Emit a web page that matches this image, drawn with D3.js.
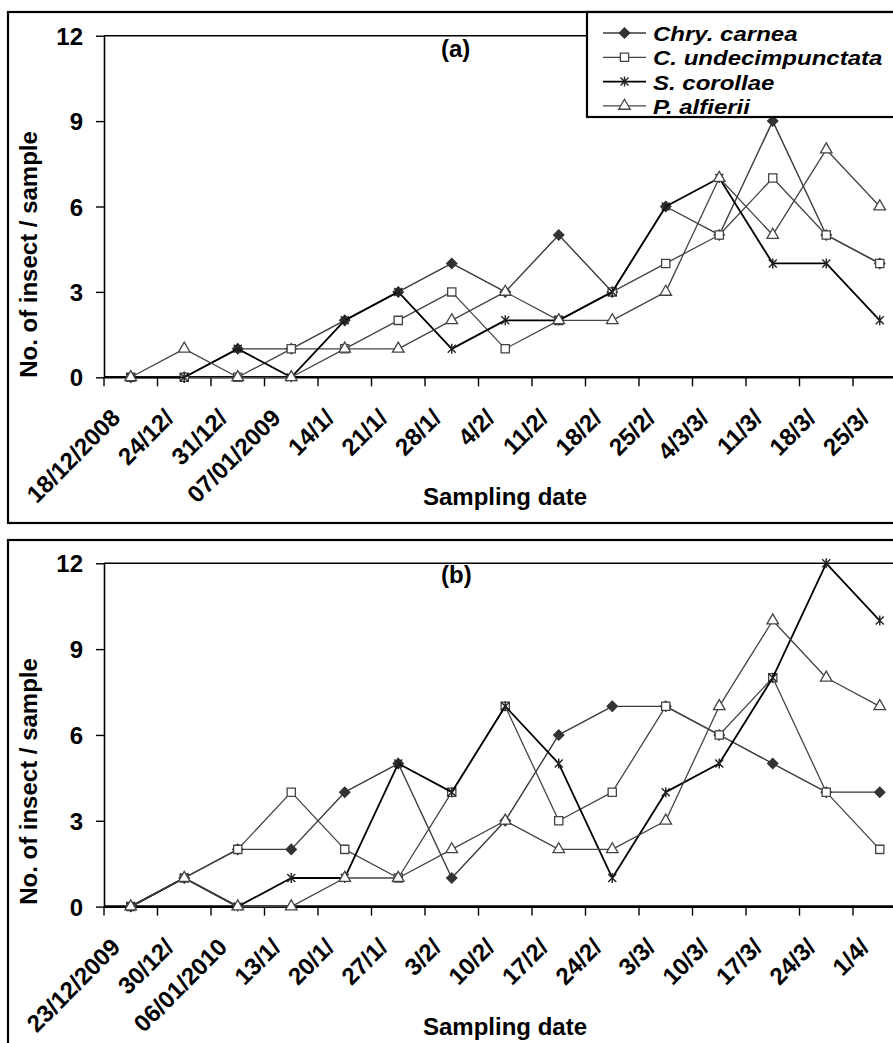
<!DOCTYPE html>
<html><head><meta charset="utf-8">
<script src="https://cdn.jsdelivr.net/npm/d3@7"></script>
<style>
body{margin:0;background:#fff}
svg{display:block}
text{font-family:"Liberation Sans",Arial,sans-serif;font-weight:bold;fill:#000}
</style>
</head><body>
<svg id="chart" width="893" height="1043"></svg>
<script>
// ---------- data ----------
const datesA = ["18/12/2008","24/12/","31/12/","07/01/2009","14/1/","21/1/","28/1/","4/2/","11/2/","18/2/","25/2/","4/3/3/","11/3/","18/3/","25/3/"];
const chryA = [0,0,1,1,2,3,4,3,5,3,6,5,9,5,4];
const coccA = [0,0,0,1,1,2,3,1,2,3,4,5,7,5,4];
const syrA  = [0,0,1,0,2,3,1,2,2,3,6,7,4,4,2];
const parA  = [0,1,0,0,1,1,2,3,2,2,3,7,5,8,6];

const datesB = ["23/12/2009","30/12/","06/01/2010","13/1/","20/1/","27/1/","3/2/","10/2/","17/2/","24/2/","3/3/","10/3/","17/3/","24/3/","1/4/"];
const chryB = [0,1,2,2,4,5,1,3,6,7,7,6,5,4,4];
const coccB = [0,1,2,4,2,1,4,7,3,4,7,6,8,4,2];
const syrB  = [0,1,0,1,1,5,4,7,5,1,4,5,8,12,10];
const parB  = [0,1,0,0,1,1,2,3,2,2,3,7,10,8,7];

const seriesNames = ["Chry. carnea","C. undecimpunctata","S. corollae","P. alfierii"];
const yTicks = [0,3,6,9,12];
const yTitle = "No. of insect / sample";
const xTitle = "Sampling date";

// ---------- styles ----------
const styles = [
  {kind:"diamond",  line:"#3a3a3a", lw:1.4, fill:"#333", stroke:"#333"},
  {kind:"square",   line:"#444",    lw:1.3, fill:"#fff", stroke:"#444"},
  {kind:"star",     line:"#000",    lw:1.8, fill:"none", stroke:"#222"},
  {kind:"triangle", line:"#444",    lw:1.3, fill:"#fff", stroke:"#444"}
];
function markerPath(kind){
  if(kind==="diamond") return d3.symbol(d3.symbolSquare, 52)();
  if(kind==="square") return d3.symbol(d3.symbolSquare, 68)();
  if(kind==="triangle") return d3.symbol(d3.symbolTriangle, 58)();
  return "M-4,-4L4,4M-4,4L4,-4M0,-5L0,5";
}
function drawMarker(g, kind, st, cx, cy){
  g.append("path").attr("d", markerPath(kind))
    .attr("transform", `translate(${cx},${cy})` + (kind==="diamond" ? " rotate(45)" : ""))
    .attr("fill", st.fill).attr("stroke", st.stroke)
    .attr("stroke-width", kind==="star" ? 1.4 : 1.3);
}

const svg = d3.select("#chart");

function drawPanel(cfg){
  const g = svg.append("g");
  const x = d3.scaleBand().domain(cfg.dates).range([104, 906.5]);
  const y = d3.scaleLinear().domain([0,12]).range([cfg.y0, cfg.y12]);
  const bw = x.bandwidth();

  // outer frame
  g.append("rect").attr("x",8).attr("y",cfg.frameTop)
    .attr("width",900).attr("height",cfg.frameH)
    .attr("fill","none").attr("stroke","#000").attr("stroke-width",2.2);

  // plot area top border
  g.append("line").attr("x1",104).attr("x2",cfg.topEnd)
    .attr("y1",y(12)).attr("y2",y(12)).attr("stroke","#000").attr("stroke-width",1.4);

  // y axis
  const ya = g.append("g").attr("transform","translate(104,0)")
    .call(d3.axisLeft(y).tickValues(yTicks).tickSize(8).tickSizeOuter(0).tickPadding(13));
  ya.select(".domain").attr("stroke","#000").attr("stroke-width",1.6);
  ya.selectAll(".tick line").attr("stroke","#000").attr("stroke-width",1.4);
  ya.selectAll(".tick text").attr("dy","0.36em")
    .style("font-size","24px").style("font-family","'Liberation Sans',Arial,sans-serif").style("font-weight","bold");

  // x axis
  g.append("line").attr("x1",104).attr("x2",900)
    .attr("y1",cfg.y0).attr("y2",cfg.y0).attr("stroke","#000").attr("stroke-width",2.6);
  g.selectAll(".xb").data(cfg.dates).enter().append("line")
    .attr("x1",d=>x(d)).attr("x2",d=>x(d))
    .attr("y1",cfg.y0).attr("y2",cfg.y0+9)
    .attr("stroke","#000").attr("stroke-width",1.4);
  const xa = g.append("g").attr("transform",`translate(0,${cfg.y0})`)
    .call(d3.axisBottom(x).tickSize(0).tickPadding(0));
  xa.select(".domain").remove();
  xa.selectAll(".tick text")
    .attr("x",0).attr("y",0).attr("dy",0)
    .attr("transform","translate(-9,42) rotate(-45)")
    .style("text-anchor","end")
    .style("font-size","24px").style("font-family","'Liberation Sans',Arial,sans-serif").style("font-weight","bold");

  // titles
  g.append("text").attr("transform",`translate(37,${cfg.yTitleY}) rotate(-90)`)
    .attr("text-anchor","middle").style("font-size","24px").text(yTitle);
  g.append("text").attr("x",505).attr("y",cfg.xTitleY)
    .attr("text-anchor","middle").style("font-size","24px").text(xTitle);
  g.append("text").attr("x",441).attr("y",cfg.labelY)
    .style("font-size","24px").text(cfg.label);

  // series
  const line = d3.line().x((d,i)=>x(cfg.dates[i])+bw/2).y(d=>y(d));
  cfg.series.forEach((vals, si)=>{
    const st = styles[si];
    g.append("path").attr("d", line(vals)).attr("fill","none")
      .attr("stroke", st.line).attr("stroke-width", st.lw).attr("stroke-linejoin","round");
    vals.forEach((v,i)=> drawMarker(g, st.kind, st, x(cfg.dates[i])+bw/2, y(v)));
  });

  // legend
  if(cfg.legend){
    const lg = svg.append("g");
    lg.append("rect").attr("x",587).attr("y",cfg.frameTop)
      .attr("width",320).attr("height",105)
      .attr("fill","#fff").attr("stroke","#000").attr("stroke-width",2.2);
    seriesNames.forEach((name, i)=>{
      const cy = 33 + i*24.3;
      const st = styles[i];
      lg.append("line").attr("x1",603).attr("x2",646).attr("y1",cy).attr("y2",cy)
        .attr("stroke", st.line).attr("stroke-width", st.lw);
      drawMarker(lg, st.kind, st, 624.5, cy);
      const t = lg.append("text").attr("x",653).attr("y",cy+8)
        .style("font-size","24px").style("font-style","italic").text(name);
      const w = t.node().getComputedTextLength();
      t.style("font-size","20.5px").attr("textLength", w).attr("lengthAdjust","spacingAndGlyphs");
    });
  }
}

drawPanel({dates:datesA, series:[chryA,coccA,syrA,parA], y0:377.3, y12:35.7,
  frameTop:12, frameH:511, topEnd:587, yTitleY:254.5, xTitleY:505, labelY:57, label:"(a)", legend:true});
drawPanel({dates:datesB, series:[chryB,coccB,syrB,parB], y0:906.6, y12:563.3,
  frameTop:540, frameH:520, topEnd:900, yTitleY:781.5, xTitleY:1035, labelY:583, label:"(b)", legend:false});
</script>
</body></html>
